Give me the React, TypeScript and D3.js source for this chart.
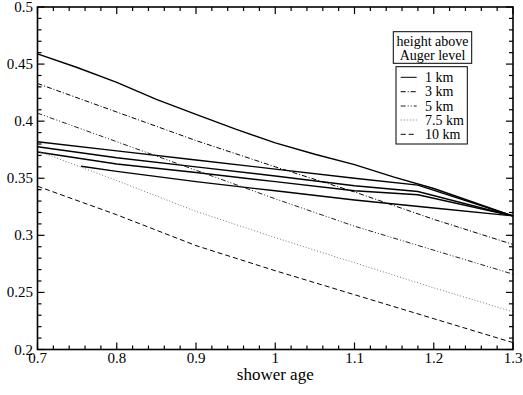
import React from "react";
import * as d3 from "d3";

const W = 523;
const H = 395;

// ages at 0.1 steps
const ages10 = [0.7, 0.8, 0.9, 1.0, 1.1, 1.2, 1.3];
// top solid line at 0.05 steps
const agesA = [0.7, 0.75, 0.8, 0.85, 0.9, 0.95, 1.0, 1.05, 1.1, 1.15, 1.2, 1.25, 1.3];
const solidA = [0.459, 0.447, 0.434, 0.419, 0.406, 0.393, 0.381, 0.371, 0.362, 0.351, 0.341, 0.329, 0.317];
const agesSolid = [0.7, 0.8, 0.9, 1.0, 1.1, 1.18, 1.3];
const solidF = [0.382, 0.374, 0.366, 0.358, 0.35, 0.344, 0.317];
const solidG = [0.3776, 0.368, 0.36, 0.352, 0.3434, 0.3384, 0.317];
const solidH = [0.373, 0.3625, 0.355, 0.347, 0.339, 0.3355, 0.317];
const agesI = [0.755, 0.8, 0.9, 1.0, 1.1, 1.2, 1.3];
const solidI = [0.3605, 0.356, 0.347, 0.339, 0.331, 0.324, 0.317];
const km3 = [0.433, 0.408, 0.383, 0.36, 0.338, 0.314, 0.292];
const km5 = [0.407, 0.382, 0.357, 0.332, 0.308, 0.287, 0.266];
const km75 = [0.374, 0.348, 0.321, 0.298, 0.276, 0.254, 0.233];
const km10 = [0.343, 0.318, 0.291, 0.269, 0.248, 0.227, 0.206];

const legendTitle = ["height above", "Auger level"];
const legendLabels = ["1 km", "3 km", "5 km", "7.5 km", "10 km"];
const legendDash = ["none", "5,2,1,2", "5,2,1,2,1,2", "1,2", "5,3"];
const legendColor = ["#000", "#000", "#222", "#777", "#000"];

const xLabel = "shower age";

const FONT = "Liberation Serif, Times New Roman, Times, DejaVu Serif, serif";

export default function App() {
  const left = 37.5, right = 513, top = 7, bottom = 349.5;
  const x = d3.scaleLinear().domain([0.7, 1.3]).range([left, right]);
  const y = d3.scaleLinear().domain([0.2, 0.5]).range([bottom, top]);

  const line = d3
    .line<[number, number]>()
    .x((d) => x(d[0]))
    .y((d) => y(d[1]));

  const zip = (a: number[], b: number[]) => a.map((v, i) => [v, b[i]] as [number, number]);

  const series = [
    { pts: zip(agesA, solidA), dash: "none", color: "#000", w: 1.4 },
    { pts: zip(agesSolid, solidF), dash: "none", color: "#000", w: 1.4 },
    { pts: zip(agesSolid, solidG), dash: "none", color: "#000", w: 1.4 },
    { pts: zip(agesSolid, solidH), dash: "none", color: "#000", w: 1.4 },
    { pts: zip(agesI, solidI), dash: "none", color: "#000", w: 1.4 },
    { pts: zip(ages10, km3), dash: legendDash[1], color: legendColor[1], w: 1 },
    { pts: zip(ages10, km5), dash: legendDash[2], color: legendColor[2], w: 1 },
    { pts: zip(ages10, km75), dash: legendDash[3], color: legendColor[3], w: 1 },
    { pts: zip(ages10, km10), dash: legendDash[4], color: legendColor[4], w: 1 },
  ];

  const xMajor = x.ticks(6);
  const xMinor = x.ticks(30).filter((t) => !xMajor.some((m) => Math.abs(m - t) < 1e-9));
  const yMajor = y.ticks(6);
  const yMinor = y.ticks(30).filter((t) => !yMajor.some((m) => Math.abs(m - t) < 1e-9));
  const fmt = (v: number) => String(+v.toFixed(3));

  const MAJ = 7, MIN = 4;
  const rowY = [77.3, 91.7, 106, 120, 134.3];
  const txt = { fontFamily: FONT };

  return (
    <svg width={W} height={H} style={{ position: "absolute", left: 0, top: 0, background: "#fff", fontFamily: FONT }}>
      <rect x={0} y={0} width={W} height={H} fill="#fff" />
      {series.map((s, i) => (
        <path key={i} d={line(s.pts) || ""} fill="none" stroke={s.color} strokeWidth={s.w} strokeDasharray={s.dash} />
      ))}
      {/* ticks */}
      <g stroke="#000" strokeWidth={1.2}>
        {xMajor.map((t) => (
          <g key={"xM" + t}>
            <line x1={x(t)} x2={x(t)} y1={bottom} y2={bottom - MAJ} />
            <line x1={x(t)} x2={x(t)} y1={top} y2={top + MAJ} />
          </g>
        ))}
        {xMinor.map((t) => (
          <g key={"xm" + t}>
            <line x1={x(t)} x2={x(t)} y1={bottom} y2={bottom - MIN} />
            <line x1={x(t)} x2={x(t)} y1={top} y2={top + MIN} />
          </g>
        ))}
        {yMajor.map((t) => (
          <g key={"yM" + t}>
            <line x1={left} x2={left + MAJ} y1={y(t)} y2={y(t)} />
            <line x1={right} x2={right - MAJ} y1={y(t)} y2={y(t)} />
          </g>
        ))}
        {yMinor.map((t) => (
          <g key={"ym" + t}>
            <line x1={left} x2={left + MIN} y1={y(t)} y2={y(t)} />
            <line x1={right} x2={right - MIN} y1={y(t)} y2={y(t)} />
          </g>
        ))}
      </g>
      <rect x={left} y={top} width={right - left} height={bottom - top} fill="none" stroke="#000" strokeWidth={1.6} />
      {/* tick labels */}
      <g fontSize={15} fill="#000">
        {xMajor.map((t) => (
          <text key={"xl" + t} x={x(t)} y={363} textAnchor="middle" style={txt}>
            {fmt(t)}
          </text>
        ))}
        {yMajor.map((t) => (
          <text key={"yl" + t} x={33} y={y(t)} textAnchor="end" dominantBaseline="central" style={txt}>
            {fmt(t)}
          </text>
        ))}
      </g>
      <text x={x(1.0)} y={380} textAnchor="middle" fontSize={17} style={txt}>
        {xLabel}
      </text>
      {/* legend */}
      <rect x={393.3} y={31.7} width={78.4} height={31.6} fill="#fff" stroke="#000" strokeWidth={1} />
      {legendTitle.map((t, i) => (
        <text key={t} x={432.5} y={46 + i * 13.5} textAnchor="middle" fontSize={14} style={txt}>
          {t}
        </text>
      ))}
      <rect x={396} y={66.7} width={71.3} height={77.3} fill="#fff" stroke="#000" strokeWidth={1} />
      {legendLabels.map((l, i) => (
        <g key={l}>
          <line x1={400.7} x2={416.7} y1={rowY[i]} y2={rowY[i]} stroke={legendColor[i]} strokeWidth={1} strokeDasharray={legendDash[i]} />
          <text x={425} y={rowY[i]} dominantBaseline="central" fontSize={14} style={txt}>
            {l}
          </text>
        </g>
      ))}
    </svg>
  );
}
